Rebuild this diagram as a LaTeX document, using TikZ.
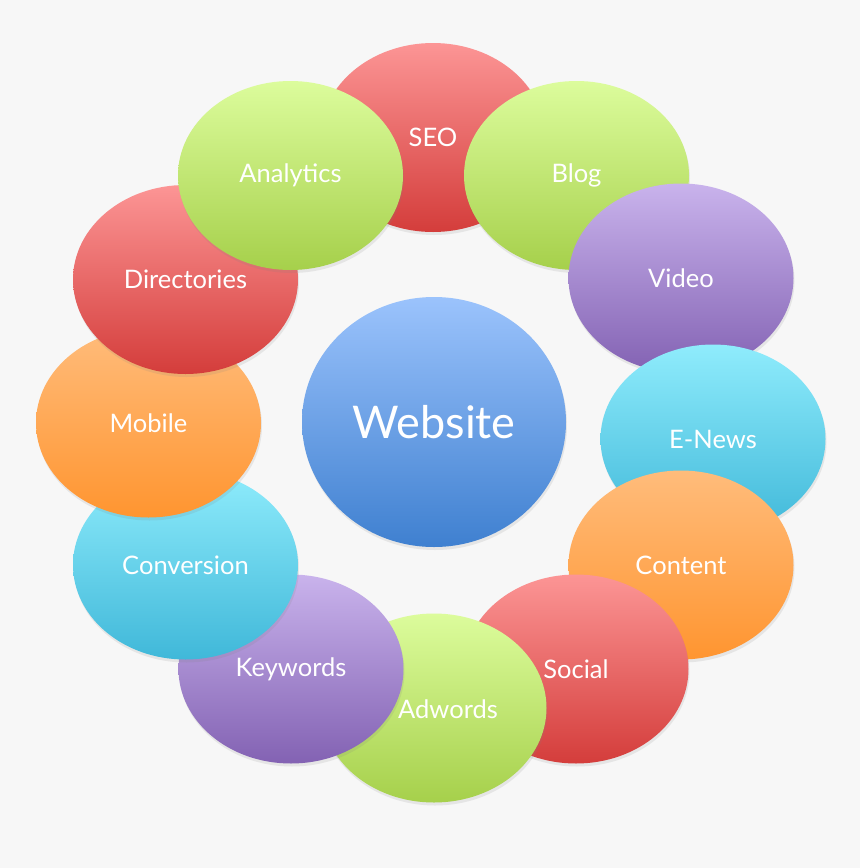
\documentclass[tikz,border=0pt]{standalone}
\usepackage{fontspec}
\setmainfont{Lato}
\usetikzlibrary{shapes.geometric,shadows}
\definecolor{bg}{HTML}{F7F7F7}
\definecolor{redT}{HTML}{FC9595}
\definecolor{redB}{HTML}{D43D3B}
\definecolor{grnT}{HTML}{DCFC9C}
\definecolor{grnB}{HTML}{A6D04B}
\definecolor{purT}{HTML}{C9B3EC}
\definecolor{purB}{HTML}{8362B3}
\definecolor{cyaT}{HTML}{8FECFC}
\definecolor{cyaB}{HTML}{40B8D9}
\definecolor{orgT}{HTML}{FFBC7B}
\definecolor{orgB}{HTML}{FF9530}
\definecolor{bluT}{HTML}{9BC3FC}
\definecolor{bluB}{HTML}{3F80D0}
\tikzset{
  bubfont/.style={font=\fontsize{25.5}{28}\selectfont},
  bub/.style={ellipse, minimum width=225pt, minimum height=189pt, inner sep=0pt,
    text=white, bubfont,
    drop shadow={shadow xshift=1pt, shadow yshift=-3pt, opacity=0.15}},
  redb/.style={bub, top color=redT, bottom color=redB},
  grnb/.style={bub, top color=grnT, bottom color=grnB},
  purb/.style={bub, top color=purT, bottom color=purB},
  cyab/.style={bub, top color=cyaT, bottom color=cyaB},
  orgb/.style={bub, top color=orgT, bottom color=orgB},
}
\begin{document}
\begin{tikzpicture}[x=1pt,y=-1pt]
\useasboundingbox[fill=bg] (0,0) rectangle (860,868);
\node[redb] (seo) at (433,137.5) {\raisebox{-2pt}{SEO}};
\node[grnb] (blog) at (576.5,175.5) {\raisebox{-2pt}{Blog}};
\node[purb] (video) at (681,278) {\raisebox{-2pt}{Video}};
\node[cyab] (enews) at (713,439) {\raisebox{-1pt}{E-News}};
\node[orgb] (content) at (681,565) {\raisebox{-2pt}{Content}};
\node[redb] (social) at (576,669) {\raisebox{-1pt}{Social}};
\node[grnb, label={[text=white, bubfont, xshift=14pt, yshift=-1pt]center:Adwords}] (adwords) at (434,708) {};
\node[purb] (keywords) at (291,669) {\raisebox{-1pt}{Keywords}};
\node[cyab] (conversion) at (185.5,565) {\raisebox{-2pt}{Conversion}};
\node[orgb] (mobile) at (148.5,423) {Mobile};
\node[redb] (directories) at (185.5,279.5) {\raisebox{-1pt}{Directories}};
\node[grnb] (analytics) at (290.5,175.5) {\raisebox{-2pt}{Analytics}};
\node[ellipse, minimum width=264pt, minimum height=250pt, inner sep=0pt,
  top color=bluT, bottom color=bluB, text=white, font=\fontsize{45}{50}\selectfont,
  drop shadow={shadow xshift=1pt, shadow yshift=-3pt, opacity=0.15}] (website) at (434,422) {Website};
\end{tikzpicture}
\end{document}
